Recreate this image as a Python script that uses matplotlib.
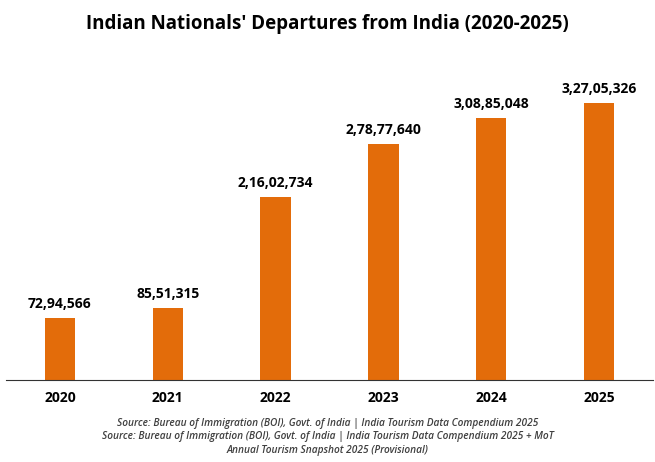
import matplotlib
matplotlib.use("Agg")
import matplotlib.pyplot as plt

years = ["2020", "2021", "2022", "2023", "2024", "2025"]
departures = [7294566, 8551315, 21602734, 27877640, 30885048, 32705326]
labels = ["72,94,566", "85,51,315", "2,16,02,734", "2,78,77,640", "3,08,85,048", "3,27,05,326"]

plt.rcParams['font.family'] = ['Open Sans', 'DejaVu Sans']
fig = plt.figure(figsize=(6.55, 4.62), dpi=100)
ax = fig.add_axes([6/655, 1-380/462, 647/655, (380-75)/462])
x = range(len(years))
ax.bar(x, departures, width=0.28, color="#E36C0A")
for xi, v, l in zip(x, departures, labels):
    ax.annotate(l, (xi, v), xytext=(0, 5), textcoords="offset points",
                ha="center", va="bottom", fontsize=10, fontweight="bold")
ax.set_xlim(-0.5, 5.5)
ax.set_ylim(0, 36e6)
ax.set_xticks(list(x))
ax.set_xticklabels(years, fontsize=10, fontweight="bold")
ax.tick_params(axis="x", length=0, pad=8)
ax.set_yticks([])
for s in ["top", "right", "left"]:
    ax.spines[s].set_visible(False)
ax.spines["bottom"].set_color("#333333")
fig.text(0.5, 1-24/462, "Indian Nationals' Departures from India (2020-2025)",
         ha="center", va="center", fontsize=13.5, fontweight="bold")
src = ("Source: Bureau of Immigration (BOI), Govt. of India | India Tourism Data Compendium 2025\n"
       "Source: Bureau of Immigration (BOI), Govt. of India | India Tourism Data Compendium 2025 + MoT\n"
       "Annual Tourism Snapshot 2025 (Provisional)")
fig.text(0.5, 1-437/462, src, ha="center", va="center", fontsize=7.3, style="italic",
         fontweight="semibold", color="#404040", linespacing=1.3)
fig.savefig("out.png", dpi=100)
